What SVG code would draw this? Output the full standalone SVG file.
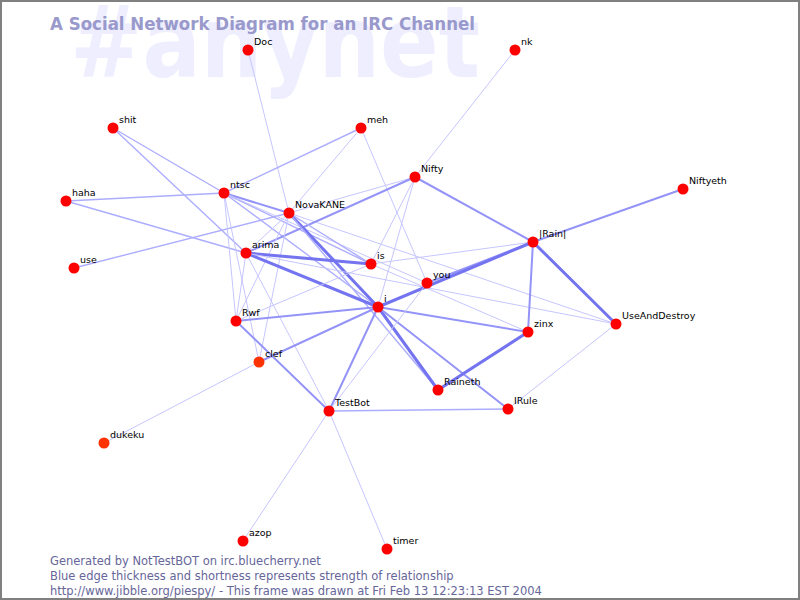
<svg xmlns="http://www.w3.org/2000/svg" width="800" height="600" viewBox="0 0 800 600">
<style>
.bg{fill:#ffffff}
.frame{fill:none;stroke:#808080;stroke-width:2}
.wm{font-family:"DejaVu Sans",sans-serif;font-weight:bold;fill:#eeeeff}
.title{font-family:"DejaVu Sans",sans-serif;font-weight:bold;fill:#9999cc}
.foot{font-family:"DejaVu Sans",sans-serif;font-size:11.5px;fill:#666699}
.lbl{font-family:"DejaVu Sans",sans-serif;font-size:9.5px;fill:#000000}
.n{fill:#ff0000}
.n2{fill:#ff3300}
line{stroke-linecap:round}
.t{stroke:#c6c6ff;stroke-width:1}
.l{stroke:#adadff;stroke-width:1.4}
.m{stroke:#9494f8;stroke-width:2}
.k{stroke:#7474f0;stroke-width:3}
</style>
<rect class="bg" x="0" y="0" width="800" height="600"/>
<text class="wm" x="70" y="77" font-size="100" textLength="410" lengthAdjust="spacingAndGlyphs">#anynet</text>
<text class="title" x="50" y="30" font-size="17" textLength="425" lengthAdjust="spacingAndGlyphs">A Social Network Diagram for an IRC Channel</text>
<g id="connectors">
<line class="t" x1="248" y1="50" x2="289" y2="213"/>
<line class="t" x1="515" y1="50" x2="415" y2="177"/>
<line class="l" x1="113" y1="128" x2="224" y2="193"/>
<line class="l" x1="113" y1="128" x2="246" y2="253"/>
<line class="l" x1="361" y1="128" x2="224" y2="193"/>
<line class="t" x1="361" y1="128" x2="289" y2="213"/>
<line class="t" x1="361" y1="128" x2="427" y2="283"/>
<line class="l" x1="66" y1="201" x2="224" y2="193"/>
<line class="l" x1="66" y1="201" x2="246" y2="253"/>
<line class="l" x1="74" y1="268" x2="289" y2="213"/>
<line class="m" x1="224" y1="193" x2="289" y2="213"/>
<line class="l" x1="224" y1="193" x2="371" y2="264"/>
<line class="l" x1="224" y1="193" x2="378" y2="307"/>
<line class="t" x1="224" y1="193" x2="427" y2="283"/>
<line class="t" x1="224" y1="193" x2="236" y2="321"/>
<line class="t" x1="224" y1="193" x2="259" y2="362"/>
<line class="t" x1="289" y1="213" x2="616" y2="324"/>
<line class="t" x1="415" y1="177" x2="289" y2="213"/>
<line class="m" x1="415" y1="177" x2="246" y2="253"/>
<line class="m" x1="415" y1="177" x2="533" y2="242"/>
<line class="t" x1="415" y1="177" x2="371" y2="264"/>
<line class="t" x1="415" y1="177" x2="378" y2="307"/>
<line class="m" x1="683" y1="189" x2="533" y2="242"/>
<line class="t" x1="289" y1="213" x2="246" y2="253"/>
<line class="k" x1="289" y1="213" x2="378" y2="307"/>
<line class="l" x1="289" y1="213" x2="371" y2="264"/>
<line class="t" x1="289" y1="213" x2="236" y2="321"/>
<line class="t" x1="289" y1="213" x2="259" y2="362"/>
<line class="l" x1="289" y1="213" x2="438" y2="390"/>
<line class="k" x1="246" y1="253" x2="371" y2="264"/>
<line class="k" x1="246" y1="253" x2="378" y2="307"/>
<line class="t" x1="246" y1="253" x2="236" y2="321"/>
<line class="t" x1="246" y1="253" x2="329" y2="411"/>
<line class="t" x1="246" y1="253" x2="616" y2="324"/>
<line class="t" x1="371" y1="264" x2="533" y2="242"/>
<line class="t" x1="371" y1="264" x2="236" y2="321"/>
<line class="t" x1="371" y1="264" x2="528" y2="332"/>
<line class="m" x1="427" y1="283" x2="533" y2="242"/>
<line class="k" x1="378" y1="307" x2="533" y2="242"/>
<line class="m" x1="378" y1="307" x2="236" y2="321"/>
<line class="m" x1="378" y1="307" x2="259" y2="362"/>
<line class="m" x1="378" y1="307" x2="329" y2="411"/>
<line class="k" x1="378" y1="307" x2="438" y2="390"/>
<line class="m" x1="378" y1="307" x2="528" y2="332"/>
<line class="m" x1="378" y1="307" x2="508" y2="409"/>
<line class="t" x1="427" y1="283" x2="329" y2="411"/>
<line class="m" x1="533" y1="242" x2="528" y2="332"/>
<line class="k" x1="533" y1="242" x2="616" y2="324"/>
<line class="k" x1="528" y1="332" x2="438" y2="390"/>
<line class="t" x1="616" y1="324" x2="508" y2="409"/>
<line class="m" x1="236" y1="321" x2="329" y2="411"/>
<line class="t" x1="259" y1="362" x2="104" y2="443"/>
<line class="l" x1="329" y1="411" x2="508" y2="409"/>
<line class="t" x1="329" y1="411" x2="243" y2="541"/>
<line class="t" x1="329" y1="411" x2="387" y2="549"/>
</g>
<g id="node-Doc"><circle class="n" cx="248" cy="50" r="5.5"/><text class="lbl" x="254" y="45">Doc</text></g>
<g id="node-nk"><circle class="n" cx="515" cy="50" r="5.5"/><text class="lbl" x="521" y="45">nk</text></g>
<g id="node-shit"><circle class="n" cx="113" cy="128" r="5.5"/><text class="lbl" x="119" y="123">shit</text></g>
<g id="node-meh"><circle class="n" cx="361" cy="128" r="5.5"/><text class="lbl" x="367" y="123">meh</text></g>
<g id="node-ntsc"><circle class="n" cx="224" cy="193" r="5.5"/><text class="lbl" x="230" y="188">ntsc</text></g>
<g id="node-haha"><circle class="n" cx="66" cy="201" r="5.5"/><text class="lbl" x="72" y="196">haha</text></g>
<g id="node-Nifty"><circle class="n" cx="415" cy="177" r="5.5"/><text class="lbl" x="421" y="172">Nifty</text></g>
<g id="node-Niftyeth"><circle class="n" cx="683" cy="189" r="5.5"/><text class="lbl" x="689" y="184">Niftyeth</text></g>
<g id="node-NovaKANE"><circle class="n" cx="289" cy="213" r="5.5"/><text class="lbl" x="295" y="208">NovaKANE</text></g>
<g id="node-Rain"><circle class="n" cx="533" cy="242" r="5.5"/><text class="lbl" x="539" y="237">|Rain|</text></g>
<g id="node-arima"><circle class="n" cx="246" cy="253" r="5.5"/><text class="lbl" x="252" y="248">arima</text></g>
<g id="node-is"><circle class="n" cx="371" cy="264" r="5.5"/><text class="lbl" x="377" y="259">is</text></g>
<g id="node-use"><circle class="n" cx="74" cy="268" r="5.5"/><text class="lbl" x="80" y="263">use</text></g>
<g id="node-you"><circle class="n" cx="427" cy="283" r="5.5"/><text class="lbl" x="433" y="278">you</text></g>
<g id="node-i"><circle class="n" cx="378" cy="307" r="5.5"/><text class="lbl" x="384" y="302">i</text></g>
<g id="node-UseAndDestroy"><circle class="n" cx="616" cy="324" r="5.5"/><text class="lbl" x="622" y="319">UseAndDestroy</text></g>
<g id="node-Rwf"><circle class="n" cx="236" cy="321" r="5.5"/><text class="lbl" x="242" y="316">Rwf</text></g>
<g id="node-zinx"><circle class="n" cx="528" cy="332" r="5.5"/><text class="lbl" x="534" y="327">zinx</text></g>
<g id="node-clef"><circle class="n2" cx="259" cy="362" r="5.5"/><text class="lbl" x="265" y="357">clef</text></g>
<g id="node-Raineth"><circle class="n" cx="438" cy="390" r="5.5"/><text class="lbl" x="444" y="385">Raineth</text></g>
<g id="node-TestBot"><circle class="n" cx="329" cy="411" r="5.5"/><text class="lbl" x="335" y="406">TestBot</text></g>
<g id="node-IRule"><circle class="n" cx="508" cy="409" r="5.5"/><text class="lbl" x="514" y="404">IRule</text></g>
<g id="node-dukeku"><circle class="n2" cx="104" cy="443" r="5.5"/><text class="lbl" x="110" y="438">dukeku</text></g>
<g id="node-azop"><circle class="n" cx="243" cy="541" r="5.5"/><text class="lbl" x="249" y="536">azop</text></g>
<g id="node-timer"><circle class="n" cx="387" cy="549" r="5.5"/><text class="lbl" x="393" y="544">timer</text></g>
<text class="foot" x="50" y="565">Generated by NotTestBOT on irc.bluecherry.net</text>
<text class="foot" x="50" y="580">Blue edge thickness and shortness represents strength of relationship</text>
<text class="foot" x="50" y="595">http://www.jibble.org/piespy/ - This frame was drawn at Fri Feb 13 12:23:13 EST 2004</text>
<rect class="frame" x="1" y="1" width="798" height="598"/>
</svg>
